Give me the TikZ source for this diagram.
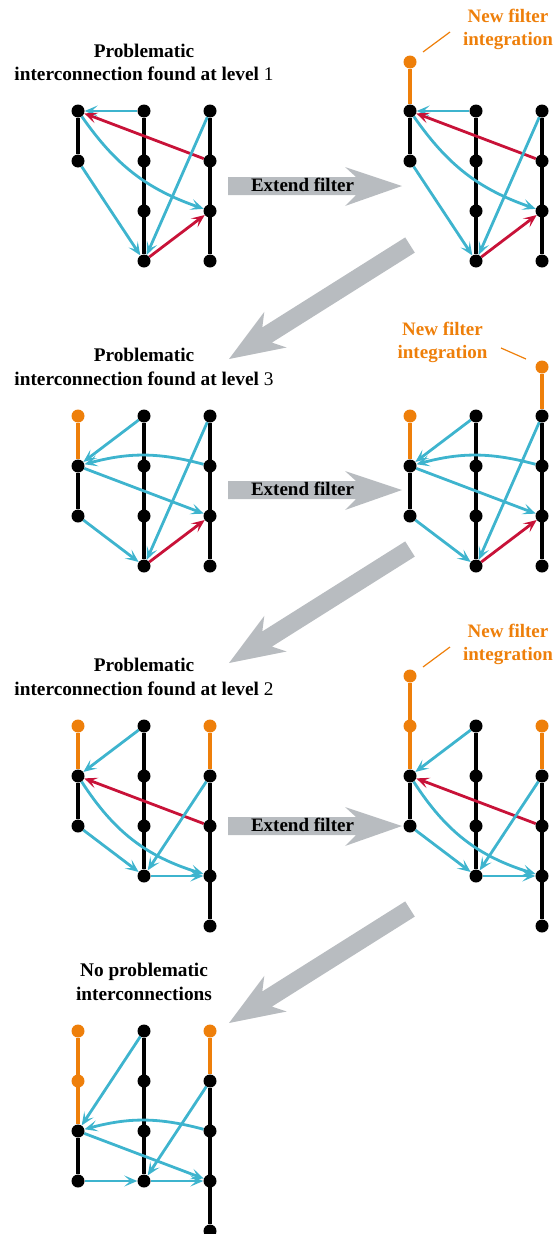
\documentclass[tikz,border=0pt]{standalone}
\usepackage{fontspec}
\setmainfont{Liberation Serif}
\usetikzlibrary{arrows.meta}
\definecolor{cblue}{RGB}{62,180,206}
\definecolor{cred}{RGB}{200,18,56}
\definecolor{corange}{RGB}{238,127,10}
\definecolor{cgray}{RGB}{184,188,192}
\pgfdeclarelayer{bg}
\pgfsetlayers{bg,main}
\begin{document}
\begin{tikzpicture}[x=1pt,y=-1pt,
  dot/.style={circle,fill=black,inner sep=0pt,minimum size=13pt},
  odot/.style={dot,fill=corange},
  col/.style={line width=3.4pt,black},
  ocol/.style={line width=3.4pt,corange},
  tipstyle/.style={-{Stealth[length=13pt,width=11pt,inset=6pt]}},
  barrow/.style={line width=2.8pt,cblue,tipstyle},
  rarrow/.style={line width=2.8pt,cred,tipstyle},
  title/.style={font=\bfseries\fontsize{19.3}{23.5}\selectfont,align=center,inner sep=0pt,anchor=base},
  olabel/.style={title,font=\bfseries\fontsize{19}{23}\selectfont,text=corange},
  eflabel/.style={font=\bfseries\fontsize{19}{23}\selectfont,inner sep=0pt,anchor=base},
  leader/.style={line width=1.2pt,corange},
  extarrow/.pic={\fill[cgray] (228,177) -- (356,177) -- (345,167) -- (402,186) -- (345,206) -- (356,195) -- (228,195) -- cycle;},
  diagarrow/.pic={\fill[cgray] (405.2,237.4) -- (262.3,327.4) -- (264.3,311.9) -- (229,359) -- (286.7,347.5) -- (271.9,342.6) -- (414.8,252.6) -- cycle;}
]
\useasboundingbox (0,0) rectangle (556,1234);

% ---------- gray arrows ----------
\begin{pgfonlayer}{bg}
\pic at (0,0) {extarrow};
\pic at (0,304) {extarrow};
\pic at (0,640) {extarrow};
\pic at (0,0) {diagarrow};
\pic at (0,304) {diagarrow};
\pic at (0,664) {diagarrow};
\end{pgfonlayer}
\node[eflabel] (ef1) at (302.5,191) {Extend filter};
\node[eflabel] (ef2) at (302.5,495) {Extend filter};
\node[eflabel] (ef3) at (302.5,831) {Extend filter};

% ---------- titles (anchor = baseline of last line) ----------
\node[title] (t1) at (144,80.7) {Problematic\\interconnection found at level {\mdseries 1}};
\node[title] (t3) at (144,385) {Problematic\\interconnection found at level {\mdseries 3}};
\node[title] (t5) at (144,695) {Problematic\\interconnection found at level {\mdseries 2}};
\node[title] (t7) at (144,1000) {No problematic\\interconnections};

% ---------- new filter labels ----------
\node[olabel] (n2) at (508,45) {New filter\\integration};
\node[olabel] (n4) at (442.5,358) {New filter\\integration};
\node[olabel] (n6) at (508,660) {New filter\\integration};
\coordinate (l2a) at (423,52);  \coordinate (l2b) at (450,32);
\coordinate (l4a) at (501,348); \coordinate (l4b) at (526,359);
\coordinate (l6a) at (423,667); \coordinate (l6b) at (450,647);
\draw[leader] (l2a) -- (l2b);
\draw[leader] (l4a) -- (l4b);
\draw[leader] (l6a) -- (l6b);

% ================= Panel 1 =================
\node[dot] (p1a1) at (78,111) {};
\node[dot] (p1a2) at (78,161) {};
\foreach \r/\y in {1/111,2/161,3/211,4/261}{
  \node[dot] (p1b\r) at (144,\y) {};
  \node[dot] (p1c\r) at (210,\y) {};
}
\begin{pgfonlayer}{bg}
\draw[col] (p1a1) -- (p1a2);
\draw[col] (p1b1) -- (p1b4);
\draw[col] (p1c1) -- (p1c4);
\draw[barrow] (p1b1) -- (p1a1);
\draw[rarrow] (p1c2) -- (p1a1);
\draw[barrow] (p1a1) to[bend right=18] (p1c3);
\draw[barrow] (p1a2) -- (p1b4);
\draw[barrow] (p1c1) -- (p1b4);
\draw[rarrow] (p1b4) -- (p1c3);
\end{pgfonlayer}

% ================= Panel 2 =================
\node[odot] (p2a0) at (410,62) {};
\node[dot] (p2a1) at (410,111) {};
\node[dot] (p2a2) at (410,161) {};
\foreach \r/\y in {1/111,2/161,3/211,4/261}{
  \node[dot] (p2b\r) at (476,\y) {};
  \node[dot] (p2c\r) at (542,\y) {};
}
\begin{pgfonlayer}{bg}
\draw[ocol] (p2a0) -- (p2a1);
\draw[col] (p2a1) -- (p2a2);
\draw[col] (p2b1) -- (p2b4);
\draw[col] (p2c1) -- (p2c4);
\draw[barrow] (p2b1) -- (p2a1);
\draw[rarrow] (p2c2) -- (p2a1);
\draw[barrow] (p2a1) to[bend right=18] (p2c3);
\draw[barrow] (p2a2) -- (p2b4);
\draw[barrow] (p2c1) -- (p2b4);
\draw[rarrow] (p2b4) -- (p2c3);
\end{pgfonlayer}

% ================= Panel 3 =================
\node[odot] (p3a1) at (78,416) {};
\node[dot] (p3a2) at (78,466) {};
\node[dot] (p3a3) at (78,516) {};
\foreach \r/\y in {1/416,2/466,3/516,4/566}{
  \node[dot] (p3b\r) at (144,\y) {};
  \node[dot] (p3c\r) at (210,\y) {};
}
\begin{pgfonlayer}{bg}
\draw[ocol] (p3a1) -- (p3a2);
\draw[col] (p3a2) -- (p3a3);
\draw[col] (p3b1) -- (p3b4);
\draw[col] (p3c1) -- (p3c4);
\draw[barrow] (p3b1) -- (p3a2);
\draw[barrow] (p3c2) to[bend right=15] (p3a2);
\draw[barrow] (p3a2) -- (p3c3);
\draw[barrow] (p3a3) -- (p3b4);
\draw[barrow] (p3c1) -- (p3b4);
\draw[rarrow] (p3b4) -- (p3c3);
\end{pgfonlayer}

% ================= Panel 4 =================
\node[odot] (p4a1) at (410,416) {};
\node[dot] (p4a2) at (410,466) {};
\node[dot] (p4a3) at (410,516) {};
\node[odot] (p4c0) at (542,367) {};
\foreach \r/\y in {1/416,2/466,3/516,4/566}{
  \node[dot] (p4b\r) at (476,\y) {};
  \node[dot] (p4c\r) at (542,\y) {};
}
\begin{pgfonlayer}{bg}
\draw[ocol] (p4a1) -- (p4a2);
\draw[col] (p4a2) -- (p4a3);
\draw[col] (p4b1) -- (p4b4);
\draw[ocol] (p4c0) -- (p4c1);
\draw[col] (p4c1) -- (p4c4);
\draw[barrow] (p4b1) -- (p4a2);
\draw[barrow] (p4c2) to[bend right=15] (p4a2);
\draw[barrow] (p4a2) -- (p4c3);
\draw[barrow] (p4a3) -- (p4b4);
\draw[barrow] (p4c1) -- (p4b4);
\draw[rarrow] (p4b4) -- (p4c3);
\end{pgfonlayer}

% ================= Panel 5 =================
\node[odot] (p5a1) at (78,726) {};
\node[dot] (p5a2) at (78,776) {};
\node[dot] (p5a3) at (78,826) {};
\foreach \r/\y in {1/726,2/776,3/826,4/876}{
  \node[dot] (p5b\r) at (144,\y) {};
}
\node[odot] (p5c1) at (210,726) {};
\foreach \r/\y in {2/776,3/826,4/876,5/926}{
  \node[dot] (p5c\r) at (210,\y) {};
}
\begin{pgfonlayer}{bg}
\draw[ocol] (p5a1) -- (p5a2);
\draw[col] (p5a2) -- (p5a3);
\draw[col] (p5b1) -- (p5b4);
\draw[ocol] (p5c1) -- (p5c2);
\draw[col] (p5c2) -- (p5c5);
\draw[barrow] (p5b1) -- (p5a2);
\draw[rarrow] (p5c3) -- (p5a2);
\draw[barrow] (p5a2) to[bend right=20] (p5c4);
\draw[barrow] (p5a3) -- (p5b4);
\draw[barrow] (p5c2) -- (p5b4);
\draw[barrow] (p5b4) -- (p5c4);
\end{pgfonlayer}

% ================= Panel 6 =================
\node[odot] (p6a0) at (410,676) {};
\node[odot] (p6a1) at (410,726) {};
\node[dot] (p6a2) at (410,776) {};
\node[dot] (p6a3) at (410,826) {};
\foreach \r/\y in {1/726,2/776,3/826,4/876}{
  \node[dot] (p6b\r) at (476,\y) {};
}
\node[odot] (p6c1) at (542,726) {};
\foreach \r/\y in {2/776,3/826,4/876,5/926}{
  \node[dot] (p6c\r) at (542,\y) {};
}
\begin{pgfonlayer}{bg}
\draw[ocol] (p6a0) -- (p6a2);
\draw[col] (p6a2) -- (p6a3);
\draw[col] (p6b1) -- (p6b4);
\draw[ocol] (p6c1) -- (p6c2);
\draw[col] (p6c2) -- (p6c5);
\draw[barrow] (p6b1) -- (p6a2);
\draw[rarrow] (p6c3) -- (p6a2);
\draw[barrow] (p6a2) to[bend right=20] (p6c4);
\draw[barrow] (p6a3) -- (p6b4);
\draw[barrow] (p6c2) -- (p6b4);
\draw[barrow] (p6b4) -- (p6c4);
\end{pgfonlayer}

% ================= Panel 7 =================
\node[odot] (p7a1) at (78,1031) {};
\node[odot] (p7a2) at (78,1081) {};
\node[dot] (p7a3) at (78,1131) {};
\node[dot] (p7a4) at (78,1181) {};
\foreach \r/\y in {1/1031,2/1081,3/1131,4/1181}{
  \node[dot] (p7b\r) at (144,\y) {};
}
\node[odot] (p7c1) at (210,1031) {};
\foreach \r/\y in {2/1081,3/1131,4/1181,5/1231}{
  \node[dot] (p7c\r) at (210,\y) {};
}
\begin{pgfonlayer}{bg}
\draw[ocol] (p7a1) -- (p7a3);
\draw[col] (p7a3) -- (p7a4);
\draw[col] (p7b1) -- (p7b4);
\draw[ocol] (p7c1) -- (p7c2);
\draw[col] (p7c2) -- (p7c5);
\draw[barrow] (p7b1) -- (p7a3);
\draw[barrow] (p7c3) to[bend right=15] (p7a3);
\draw[barrow] (p7a3) -- (p7c4);
\draw[barrow] (p7a4) -- (p7b4);
\draw[barrow] (p7b4) -- (p7c4);
\draw[barrow] (p7c2) -- (p7b4);
\end{pgfonlayer}
\end{tikzpicture}
\end{document}
